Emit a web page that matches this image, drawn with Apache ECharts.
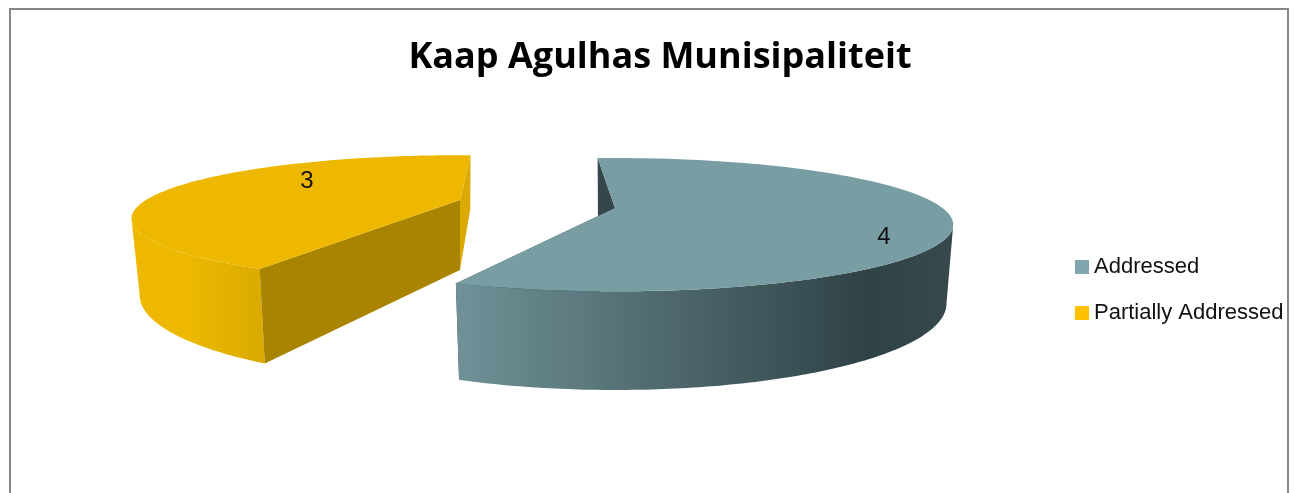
<!DOCTYPE html>
<html><head><meta charset="utf-8">
<style>html,body{margin:0;padding:0;background:#fff;overflow:hidden}#c{width:1298px;height:493px}</style>
<script src="https://cdn.jsdelivr.net/npm/echarts@6/dist/echarts.min.js"></script>
</head><body><div id="c"></div>
<script>
const titleText = 'Kaap Agulhas Munisipaliteit';
const categories = ['Addressed', 'Partially Addressed'];
const values = [4, 3];
const legendColors = ['#7FA7AD', '#FFC000'];

// 3D view of each exploded slice (layout and style only)
const views = [
  {cx:615, cy:208, rx:327.5, ry:62.5, k:0.25, h:74, base:0.98, rot:-3.8,
   top:'#789DA3', startFace:'#35474B', endFace:'#35474B', startFaceInFront:false,
   labelDx:269, labelDy:29,
   x0:457, x1:953, wall:[[0,'#6F9197'],[0.83,'#2F4246'],[1,'#37494D']]},
  {cx:460, cy:200, rx:314, ry:58, k:0.294, h:70, base:0.975, rot:208.2,
   top:'#EEB800', startFace:'#A98400', endFace:'#DBAA00', startFaceInFront:true,
   labelDx:-153, labelDy:-19,
   x0:132, x1:268, wall:[[0,'#EEB800'],[0.4,'#EEB800'],[1,'#D9A900']]}
];
const total = values.reduce((a,b)=>a+b,0);

function project(v, deg, bottom){
  const t = deg*Math.PI/180, X = Math.sin(t), Z = Math.cos(t);
  const s = 1/(1+v.k*Z), b = bottom ? v.base : 1;
  return [v.cx + v.rx*X*s*b, v.cy - v.ry*Z*s + (bottom ? v.h*s : 0)];
}
function arc(v, a0, a1, bottom){
  const pts=[], n=120;
  for(let i=0;i<=n;i++) pts.push(project(v, a0+(a1-a0)*i/n, bottom));
  return pts;
}
function poly(points, fill){
  return {type:'polygon', shape:{points}, style:{fill}, silent:true};
}
function sliceItem(idx){
  return function(params, api){
    const v = views[idx];
    const a0 = v.rot, a1 = v.rot + api.value(0)/total*360;
    const apex = [v.cx, v.cy], apexB = [v.cx, v.cy+v.h];
    const topArc = arc(v,a0,a1,false);
    // only the part of the rim that faces the viewer gets a wall
    const edge = Math.acos(-v.k)*180/Math.PI;
    const w0 = Math.max(a0, edge), w1 = Math.min(a1, 360-edge);
    const wall = arc(v,w0,w1,false).concat(arc(v,w0,w1,true).reverse());
    const grad = {type:'linear', x:v.x0, y:0, x2:v.x1, y2:0, global:true,
      colorStops:v.wall.map(s=>({offset:s[0], color:s[1]}))};
    const startFace = poly([project(v,a0,false), apex, apexB, project(v,a0,true)], v.startFace);
    const endFace = poly([project(v,a1,false), apex, apexB, project(v,a1,true)], v.endFace);
    const wallShape = poly(wall, grad);
    const layers = v.startFaceInFront ? [endFace, wallShape, startFace] : [startFace, endFace, wallShape];
    return {type:'group', children:layers.concat([
      poly([apex].concat(topArc), v.top),
      {type:'text', silent:true, style:{text:String(api.value(0)),
        x:v.cx+v.labelDx, y:v.cy+v.labelDy, align:'center', verticalAlign:'middle',
        fill:'#111', font:'24px "Liberation Sans"'}}
    ])};
  };
}
const chart = echarts.init(document.getElementById('c'), null, {renderer:'canvas'});
chart.setOption({
  animation:false,
  backgroundColor:'#fff',
  title:{text:titleText, left:655, top:35, textAlign:'center',
    textStyle:{fontFamily:'"Open Sans"', fontWeight:'bold', fontSize:36, color:'#000'}},
  legend:{orient:'vertical', left:1075, top:254.5, padding:0, itemWidth:14, itemHeight:14, itemGap:21,
    icon:'rect', selectedMode:false, data:categories,
    textStyle:{fontFamily:'"Liberation Sans"', fontSize:22, lineHeight:22, padding:[3,0,0,0], color:'#111'}},
  graphic:[{type:'rect', silent:true, z:-1, shape:{x:10,y:9,width:1278,height:600},
    style:{fill:'none', stroke:'#868686', lineWidth:2}}],
  series:categories.map((name,i)=>({
    type:'custom', name, coordinateSystem:'none',
    itemStyle:{color:legendColors[i]},
    renderItem: sliceItem(i),
    data:[[values[i]]]
  }))
});
</script></body></html>
